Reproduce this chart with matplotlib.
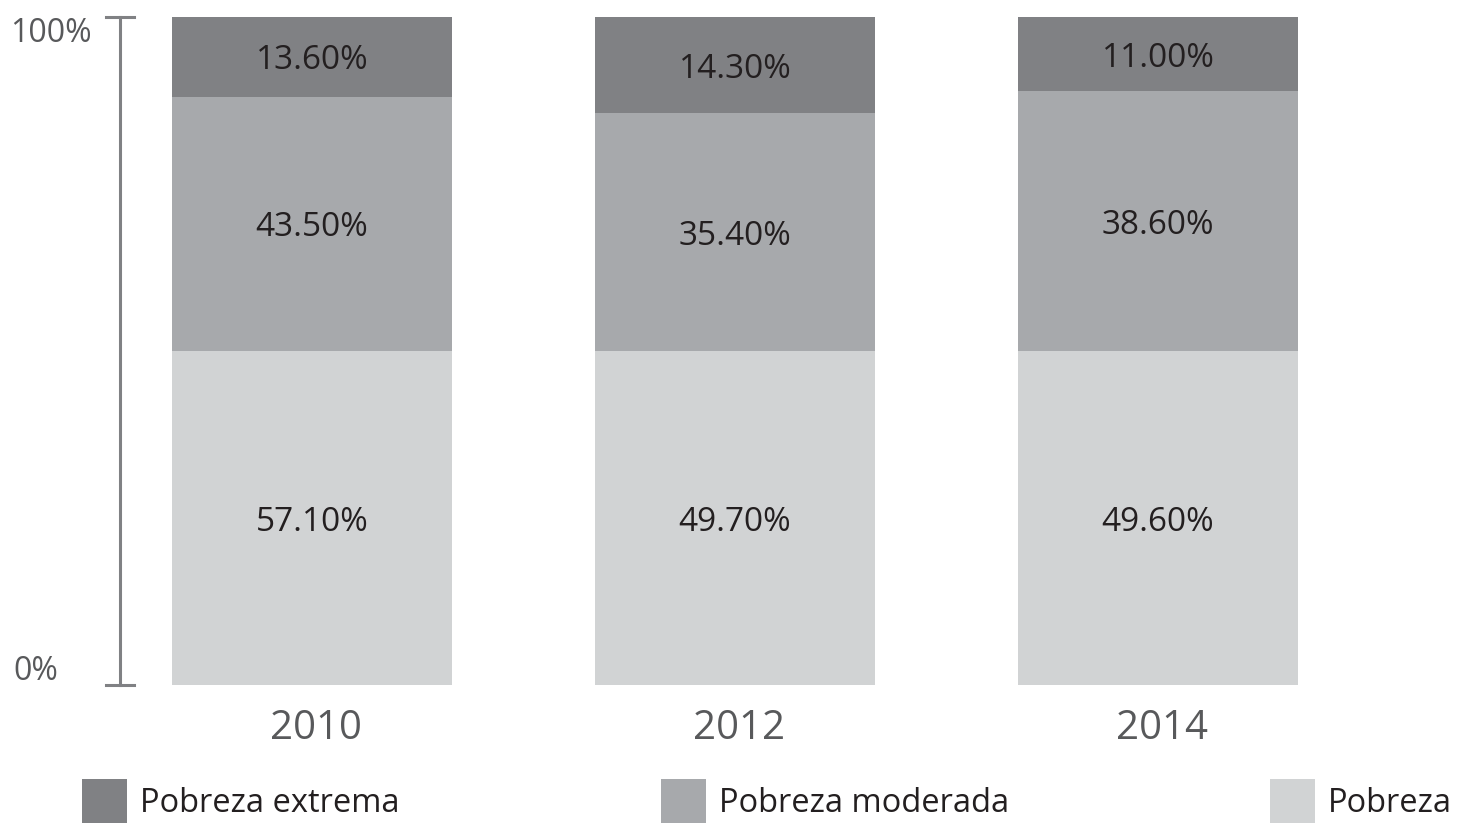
import numpy as np
import matplotlib
matplotlib.use('Agg')
import matplotlib.pyplot as plt
from matplotlib.patches import Rectangle

# data
years = ['2010', '2012', '2014']
pobreza = [57.10, 49.70, 49.60]
moderada = [43.50, 35.40, 38.60]
extrema = [13.60, 14.30, 11.00]
series_names = ['Pobreza extrema', 'Pobreza moderada', 'Pobreza']

c_ext = '#808184'
c_mod = '#a7a9ac'
c_pob = '#d1d3d4'
txt_dark = '#231f20'
txt_gray = '#58595b'

plt.rcParams['font.family'] = ['Open Sans', 'DejaVu Sans']

W, H = 1469, 823
fig = plt.figure(figsize=(W / 100, H / 100), dpi=100)
ax = fig.add_axes([0, (H - 685) / H, 1, (685 - 17) / H])
ax.set_xlim(-312 / 423, (W - 312) / 423)
ax.set_ylim(0, 100)
ax.axis('off')

# bars are normalised to 100%, labels show the raw values
pob = np.array(pobreza)
mod = np.array(moderada)
ext = np.array(extrema)
tot = pob + mod + ext
h_pob = pob / tot * 100
h_mod = mod / tot * 100
h_ext = ext / tot * 100

x = np.arange(len(years))
bw = 280 / 423
ax.bar(x, h_pob, bw, color=c_pob)
ax.bar(x, h_mod, bw, bottom=h_pob, color=c_mod)
ax.bar(x, h_ext, bw, bottom=h_pob + h_mod, color=c_ext)

dy = -0.6  # labels sit a touch below the segment centre
for i in range(len(years)):
    ax.text(x[i], h_pob[i] / 2 + dy, '%.2f%%' % pob[i], ha='center', va='center',
            fontsize=24, color=txt_dark)
    ax.text(x[i], h_pob[i] + h_mod[i] / 2 + dy, '%.2f%%' % mod[i], ha='center', va='center',
            fontsize=24, color=txt_dark)
    ax.text(x[i], h_pob[i] + h_mod[i] + h_ext[i] / 2 + dy, '%.2f%%' % ext[i], ha='center',
            va='center', fontsize=24, color=txt_dark)
    ax.text(x[i] + 0.01, -6.6, years[i], ha='center', va='center', fontsize=29,
            color=txt_gray, clip_on=False)

# axis bracket
xa = (120 - 312) / 423
cap = 14 / 423
ax.plot([xa, xa], [0, 100], color='#808184', lw=2.2, clip_on=False)
ax.plot([xa - cap, xa + cap], [100, 100], color='#808184', lw=2.2, clip_on=False)
ax.plot([xa - cap, xa + cap], [0, 0], color='#808184', lw=2.2, clip_on=False)
ax.text((92 - 312) / 423, 97.6, '100%', ha='right', va='center', fontsize=23, color=txt_gray)
ax.text((58 - 312) / 423, 2, '0%', ha='right', va='center', fontsize=23, color=txt_gray)

# legend, spread across the bottom
leg_x = [82, 661, 1270]
leg_c = [c_ext, c_mod, c_pob]
for lx, lc, name in zip(leg_x, leg_c, series_names):
    fig.add_artist(Rectangle((lx / W, 0), 45 / W, 44 / H, transform=fig.transFigure,
                             color=lc, lw=0))
    fig.text((lx + 58) / W, 19 / H, name, ha='left', va='center', fontsize=23.5,
             color=txt_dark)

fig.savefig('out.png', dpi=100)
